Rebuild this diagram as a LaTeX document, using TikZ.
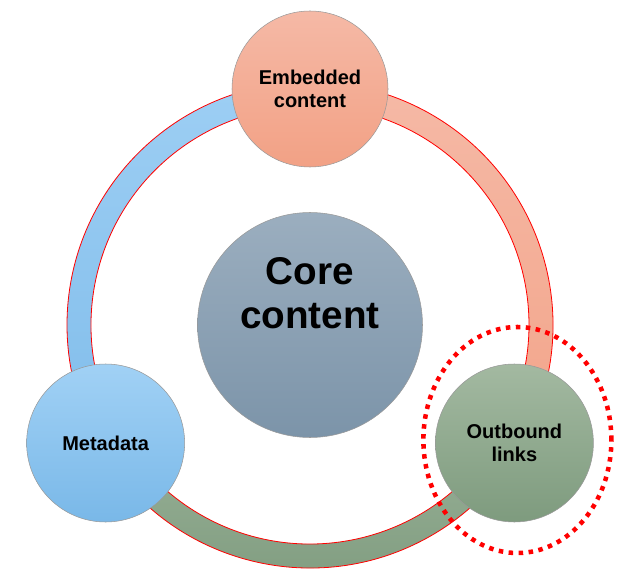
\documentclass[tikz,border=0pt]{standalone}
\usepackage{fontspec}
\setmainfont{Liberation Sans}
\usetikzlibrary{calc,positioning,backgrounds}

\definecolor{coretop}{HTML}{9BAEBF}
\definecolor{corebot}{HTML}{7C94A9}
\definecolor{embtop}{HTML}{F5B9A6}
\definecolor{embbot}{HTML}{F2A185}
\definecolor{metatop}{HTML}{A1D1F5}
\definecolor{metabot}{HTML}{79B8E8}
\definecolor{outtop}{HTML}{A3B9A1}
\definecolor{outbot}{HTML}{7E9B7E}

\begin{document}
\begin{tikzpicture}[x=0.75pt, y=0.75pt]

\tikzset{
hub/.style={circle,draw=black!40,line width=0.4pt,inner sep=0pt,align=center,font=\bfseries\fontsize{15}{17.5}\selectfont},
corehub/.style={hub,minimum size=168.75pt,top color=coretop,bottom color=corebot},
embhub/.style={hub,minimum size=117pt,top color=embtop,bottom color=embbot},
metahub/.style={hub,minimum size=118.5pt,top color=metatop,bottom color=metabot},
outhub/.style={hub,minimum size=118.5pt,top color=outtop,bottom color=outbot},
coretext/.style={align=center,inner sep=0pt,font=\bfseries\fontsize{29}{33}\selectfont},
segment/.style={draw=red,line width=0.6pt},
highlight/.style={draw=red,line width=3.4pt,dash pattern=on 3.4pt off 4.1pt}
}

\useasboundingbox (0,0) rectangle (620,568);

% Nodes
\coordinate (ring) at (310,243);
\node[corehub] (core) at (ring) {};
\node[embhub] (embed) at ($(ring)+(90:236)$) {Embedded\\content};
\node[metahub] (meta) at ($(ring)+(210:236)$) {Metadata};
\node[outhub] (outb) at ($(ring)+(-30:236)$) {Outbound\\links};

% Ring segments
\begin{scope}[on background layer]
\path[segment,top color=metatop!90!metabot,bottom color=metabot!80!metatop] ($(ring)+(90:243)$) arc[start angle=90,end angle=210,radius=243] -- ($(ring)+(210:219)$) arc[start angle=210,end angle=90,radius=219] -- cycle;
\path[segment,top color=embtop,bottom color=embbot!85!embtop] ($(ring)+(-30:243)$) arc[start angle=-30,end angle=90,radius=243] -- ($(ring)+(90:219)$) arc[start angle=90,end angle=-30,radius=219] -- cycle;
\path[segment,top color=outtop!70!outbot,bottom color=outbot] ($(ring)+(210:243)$) arc[start angle=210,end angle=330,radius=243] -- ($(ring)+(330:219)$) arc[start angle=330,end angle=210,radius=219] -- cycle;
\end{scope}

% Labels
\node[coretext] (corelab) at ($(core.center)+(0,32)$) {Core\\content};

% Highlight
\draw[highlight] ($(outb)+(3,3)$) ellipse[x radius=94,y radius=113];

\end{tikzpicture}
\end{document}
